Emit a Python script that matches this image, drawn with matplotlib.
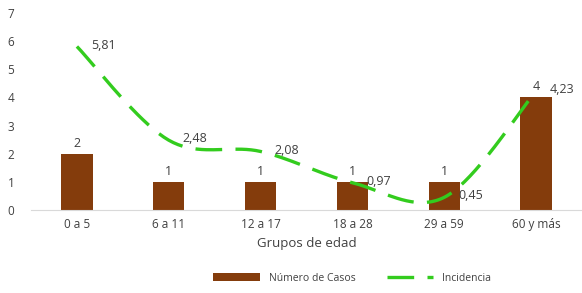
import matplotlib.pyplot as plt
import numpy as np

grupos = ["0 a 5", "6 a 11", "12 a 17", "18 a 28", "29 a 59", "60 y más"]
casos = [2, 1, 1, 1, 1, 4]
incidencia = [5.81, 2.48, 2.08, 0.97, 0.45, 4.23]
incidencia_txt = ["5,81", "2,48", "2,08", "0,97", "0,45", "4,23"]

BROWN = "#843C0C"
GREEN = "#33CC1E"
TXT = "#404040"


def smooth(xs, ys, n=40):
    # curva suavizada tipo Excel (bezier con tangentes catmull-rom)
    p = np.column_stack([xs, ys]).astype(float)
    pp = np.vstack([p[0], p, p[-1]])
    out = []
    for i in range(len(p) - 1):
        p0, p3 = pp[i + 1], pp[i + 2]
        p1 = p0 + (pp[i + 2] - pp[i]) / 6
        p2 = p3 - (pp[i + 3] - pp[i + 1]) / 6
        t = np.linspace(0, 1, n)[:, None]
        seg = ((1 - t) ** 3) * p0 + 3 * ((1 - t) ** 2) * t * p1 + 3 * (1 - t) * t ** 2 * p2 + t ** 3 * p3
        out.append(seg if i == 0 else seg[1:])
    out = np.vstack(out)
    return out[:, 0], out[:, 1]


plt.rcParams['font.family'] = ['Open Sans', 'DejaVu Sans']

fig = plt.figure(figsize=(5.82, 2.93), dpi=100)
ax = fig.add_axes([31 / 582, 83 / 293, 551 / 582, 197 / 293])

x = np.arange(len(grupos))
bars = ax.bar(x, casos, width=0.34, color=BROWN, label="Número de Casos", zorder=2)
for xi, c in zip(x, casos):
    ax.annotate(str(c), (xi, c), xytext=(0, 3), textcoords="offset points",
                ha="center", va="bottom", fontsize=9, color=TXT)

sx, sy = smooth(x, incidencia)
line, = ax.plot(sx, sy, color=GREEN, lw=2.4, dashes=(8, 4), label="Incidencia", zorder=3)
for xi, v, t in zip(x, incidencia, incidencia_txt):
    ax.annotate(t, (xi, v), xytext=(10, 1), textcoords="offset points",
                ha="left", va="center", fontsize=9, color=TXT)

ax.set_xlim(-0.5, 5.5)
ax.set_ylim(0, 7)
ax.set_yticks(range(0, 8))
ax.set_xticks(x)
ax.set_xticklabels(grupos)
ax.tick_params(axis="both", length=0, labelsize=8.5, colors=TXT)
ax.tick_params(axis="y", pad=12)
ax.tick_params(axis="x", pad=6)
for s in ["top", "right", "left"]:
    ax.spines[s].set_visible(False)
ax.spines["bottom"].set_color("#D9D9D9")
ax.set_xlabel("Grupos de edad", fontsize=9.5, color=TXT, labelpad=4)

fig.legend(handles=[bars, line], loc="lower center", bbox_to_anchor=(0.605, 0.0), ncol=2,
           frameon=False, fontsize=7.5, handlelength=4.5, columnspacing=3, labelcolor=TXT)

fig.savefig("out.png", dpi=100)
